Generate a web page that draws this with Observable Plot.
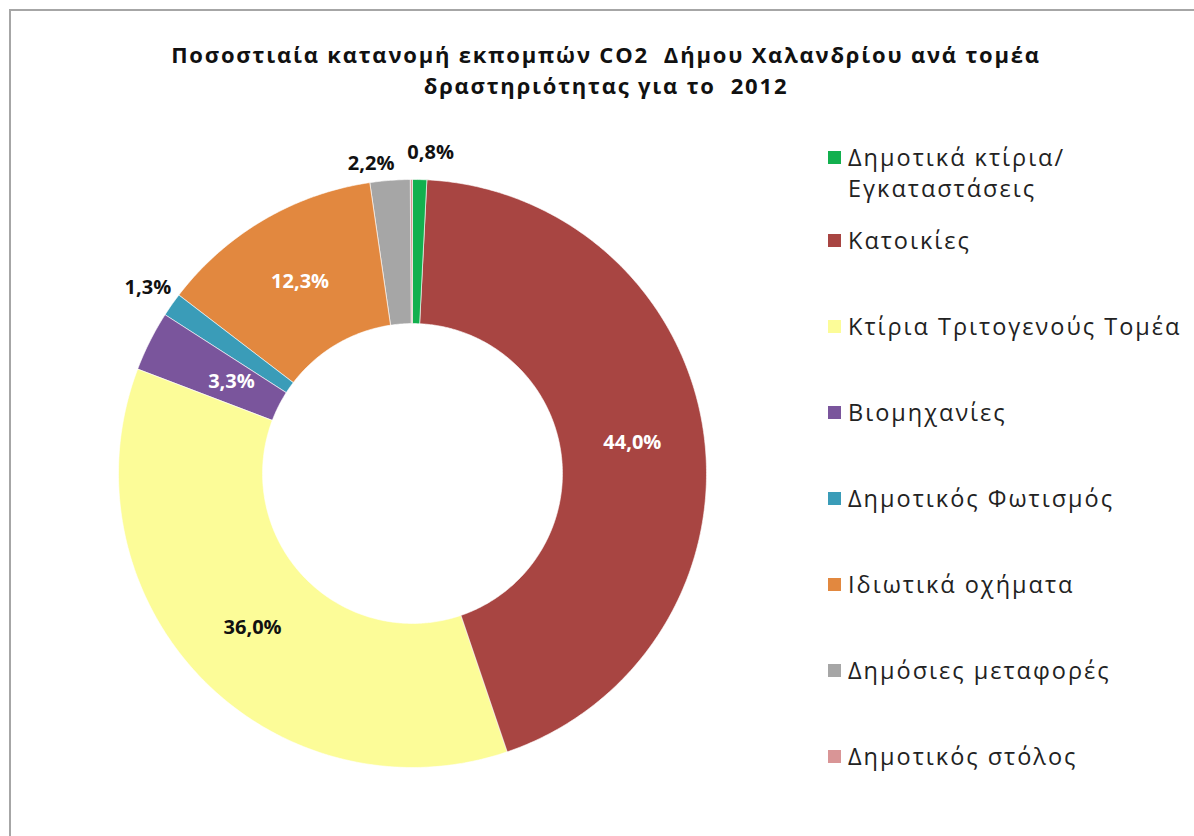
<!DOCTYPE html>
<html>
<head>
<meta charset="utf-8">
<script src="https://cdn.jsdelivr.net/npm/d3@7"></script>
<script src="https://cdn.jsdelivr.net/npm/@observablehq/plot@0.6"></script>
<style>
  html, body { margin: 0; padding: 0; background: #fff; }
  body { width: 1194px; height: 836px; position: relative; overflow: hidden; font-family: "Open Sans", "Noto Sans", sans-serif; }
  #frame { position: absolute; left: 9px; top: 9px; width: 1300px; height: 900px; border-left: 2px solid #a6a6a6; border-top: 2px solid #a6a6a6; }
  #title { position: absolute; left: 0; width: 1212px; top: 39px; text-align: center; font-weight: 700; font-size: 22px; letter-spacing: 1.8px; line-height: 31px; color: #111; white-space: pre; }
  #chart { position: absolute; left: 62px; top: 123px; }
  #legend { position: absolute; left: 0; top: 0; }
  .item { position: absolute; left: 828px; font-size: 23.5px; letter-spacing: 2px; line-height: 31px; color: #222; white-space: pre; }
  .sw { position: absolute; left: 0; top: 9px; width: 13px; height: 13px; }
  .tx { position: absolute; left: 20px; top: 0; }
</style>
</head>
<body>
<div id="frame"></div>
<div id="title">Ποσοστιαία κατανομή εκπομπών CO2  Δήμου Χαλανδρίου ανά τομέα
δραστηριότητας για το  2012</div>
<div id="chart"></div>
<div id="legend"></div>
<script>
// ---- data ----
const categories = [
  "Δημοτικά κτίρια/\nΕγκαταστάσεις",
  "Κατοικίες",
  "Κτίρια Τριτογενούς Τομέα",
  "Βιομηχανίες",
  "Δημοτικός Φωτισμός",
  "Ιδιωτικά οχήματα",
  "Δημόσιες μεταφορές",
  "Δημοτικός στόλος"
];
const values = [0.8, 44.0, 36.0, 3.3, 1.3, 12.3, 2.2, 0.1];
const valueLabels = ["0,8%", "44,0%", "36,0%", "3,3%", "1,3%", "12,3%", "2,2%", ""];
const colors = ["#12b04e", "#a84542", "#fcfc98", "#7a559c", "#3a9cb8", "#e2883f", "#a6a6a6", "#d99596"];
const labelInside = [false, true, true, true, false, true, false, false];
const labelColors = ["#111", "#fff", "#111", "#fff", "#111", "#fff", "#111", "#111"];

// ---- geometry derived from the values ----
const total = d3.sum(values);
const innerRatio = 0.51;
let cum = 0;
const slices = values.map((v, i) => {
  const a0 = cum / total * 2 * Math.PI;
  cum += v;
  const a1 = cum / total * 2 * Math.PI;
  return {cat: categories[i], a0, a1, i};
});
const ringPts = [];
for (const s of slices) {
  const n = Math.max(2, Math.ceil((s.a1 - s.a0) / 0.01));
  for (let k = 0; k <= n; k++) {
    const a = s.a0 + (s.a1 - s.a0) * k / n;
    ringPts.push({cat: s.cat, x: Math.sin(a), y: Math.cos(a)});
  }
  for (let k = n; k >= 0; k--) {
    const a = s.a0 + (s.a1 - s.a0) * k / n;
    ringPts.push({cat: s.cat, x: innerRatio * Math.sin(a), y: innerRatio * Math.cos(a)});
  }
}
const labelPts = slices.filter(s => valueLabels[s.i] !== "").map(s => {
  const a = (s.a0 + s.a1) / 2;
  const r = labelInside[s.i] ? (s.i === 3 ? 0.69 : (1 + innerRatio) / 2) : 1.1;
  return {x: r * Math.sin(a), y: r * Math.cos(a), text: valueLabels[s.i], color: labelColors[s.i], i: s.i};
});

const textOpts = {x: "x", y: "y", text: "text", fill: d => d.color, fontSize: 20, fontWeight: 700, fontFamily: "Open Sans, sans-serif"};
const s = 350 / 294;
const chart = Plot.plot({
  width: 700,
  height: 700,
  margin: 0,
  style: {background: "transparent", overflow: "visible"},
  x: {domain: [-s, s], axis: null},
  y: {domain: [-s, s], axis: null},
  color: {domain: categories, range: colors},
  marks: [
    Plot.line(ringPts, {x: "x", y: "y", z: "cat", fill: "cat", stroke: "#fff", strokeWidth: 0.6, curve: "linear-closed"}),
    Plot.text(labelPts.filter(d => d.i !== 0 && d.i !== 6), textOpts),
    Plot.text(labelPts.filter(d => d.i === 0), {...textOpts, dx: 10, dy: 2}),
    Plot.text(labelPts.filter(d => d.i === 6), {...textOpts, dx: -17, dy: 13})
  ]
});
document.getElementById("chart").appendChild(chart);

// ---- legend ----
const legendY = categories.map((c, i) => i === 0 ? 158 : 241 + (i - 1) * 86);
const leg = d3.select("#legend");
categories.forEach((c, i) => {
  const it = leg.append("div").attr("class", "item").style("top", (legendY[i] - 16) + "px");
  it.append("div").attr("class", "sw").style("background", colors[i]);
  it.append("div").attr("class", "tx").text(c);
});
</script>
</body>
</html>
